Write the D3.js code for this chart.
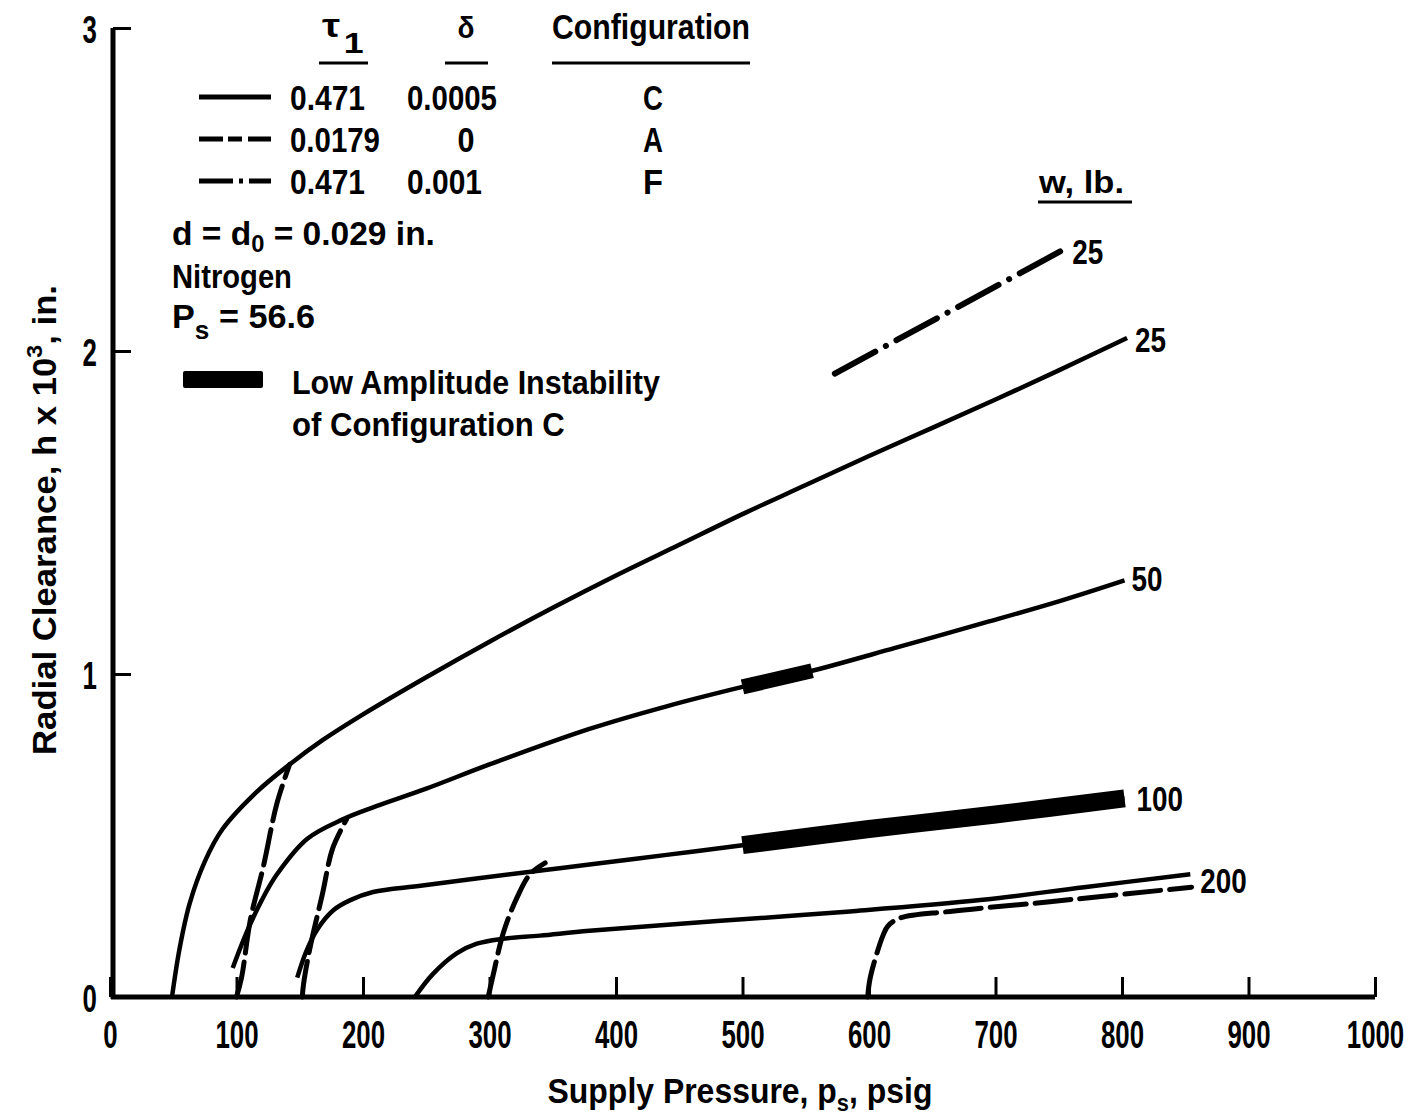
<!DOCTYPE html>
<html>
<head>
<meta charset="utf-8">
<script src="https://cdn.jsdelivr.net/npm/d3@7"></script>
<style>
  body { margin: 0; background: #fff; }
  svg text { font-family: "Liberation Sans", Arial, sans-serif; font-weight: bold; fill: #000; }
</style>
</head>
<body>
<svg width="1413" height="1118"></svg>
<script>
// supply pressure (psig) vs radial clearance (h x 10^3, in.)
const xTicks = [0, 100, 200, 300, 400, 500, 600, 700, 800, 900, 1000];
const yTicks = [0, 1, 2, 3];

// configuration C (solid), one per load w
const cW25 = [[49, 0], [55, 0.15], [63, 0.29], [75, 0.42], [89, 0.52], [116, 0.635], [142, 0.72],
              [168, 0.795], [200, 0.875], [250, 0.99], [300, 1.10], [350, 1.205], [400, 1.305],
              [450, 1.40], [500, 1.495], [550, 1.585], [600, 1.675], [650, 1.762], [700, 1.85],
              [750, 1.94], [804, 2.04]];
const cW50 = [[97, 0.09], [108, 0.20], [120, 0.30], [132, 0.38], [156, 0.49], [184, 0.55], [210, 0.59],
              [250, 0.645], [300, 0.72], [379, 0.83], [440, 0.90], [500, 0.96], [555, 1.01],
              [620, 1.08], [688, 1.155], [750, 1.225], [802, 1.29]];
const cW100 = [[148, 0.06], [155, 0.14], [164, 0.21], [177, 0.27], [190, 0.30], [208, 0.325],
               [247, 0.345], [326, 0.385], [379, 0.41], [440, 0.44], [500, 0.47], [600, 0.52],
               [700, 0.565], [802, 0.615]];
const cW200 = [[241, 0], [255, 0.07], [274, 0.135], [290, 0.165], [310, 0.18], [340, 0.19],
               [379, 0.205], [480, 0.235], [585, 0.265], [688, 0.30], [770, 0.34], [854, 0.38]];

// configuration A (dashed)
const aW25 = [[100, 0], [104, 0.06], [111, 0.24], [121, 0.40], [132, 0.60], [142, 0.72]];
const aW50 = [[152, 0], [153, 0.04], [158, 0.15], [168, 0.32], [176, 0.46], [187, 0.55]];
const aW100 = [[299, 0], [303, 0.07], [311, 0.20], [322, 0.31], [332, 0.38], [344, 0.415]];
const aW200 = [[599, 0], [601, 0.06], [611, 0.19], [615, 0.22], [625, 0.245], [664, 0.265],
               [743, 0.295], [855, 0.34]];

// configuration F (dash-dot)
const fW25 = [[573, 1.93], [752, 2.31]];

// low amplitude instability ranges of configuration C (psig)
const instab50 = [500, 555];
const instab100 = [500, 802];

const legendRows = [
  { tau: "0.471", delta: "0.0005", config: "C", style: "solid" },
  { tau: "0.0179", delta: "0", config: "A", style: "dash" },
  { tau: "0.471", delta: "0.001", config: "F", style: "dashdot" }
];

const curveLabels = [
  { text: "25", series: fW25, dx: 11, dy: 0 },
  { text: "25", series: cW25, dx: 8, dy: 1 },
  { text: "50", series: cW50, dx: 7, dy: -2 },
  { text: "100", series: cW100, dx: 12, dy: 0 },
  { text: "200", series: cW200, dx: 10, dy: 6 }
];

const svg = d3.select("svg");

const x = d3.scaleLinear().domain([0, 1000]).range([110, 1375]);
const y = d3.scaleLinear().domain([0, 3]).range([997, 28]);

const line = d3.line()
  .x(d => x(d[0]))
  .y(d => y(d[1]))
  .curve(d3.curveCatmullRom.alpha(0.5));

// the original lettering is a tall condensed face: squeeze text to a set width
function fit(t, px, py, width, rot) {
  const w = t.node().getComputedTextLength();
  t.attr("transform", `translate(${px},${py})${rot ? ` rotate(${rot})` : ""} scale(${width / w},1)`);
  return t;
}
function label(parent, size, anchor) {
  return parent.append("text").attr("font-size", size).attr("text-anchor", anchor || "start");
}

// axes
const xAxis = d3.axisBottom(x).tickValues(xTicks).tickSize(-20).tickFormat(d3.format("d")).tickPadding(0);
const gx = svg.append("g").attr("transform", `translate(0,${y(0)})`).call(xAxis);
gx.select(".domain").attr("stroke-width", 5).attr("d", `M${x(0) + 1},0H${x(1000)}`);
gx.selectAll(".tick line").attr("stroke-width", 3);
gx.selectAll(".tick text").attr("font-size", 38).attr("y", 0).attr("dy", 0)
  .attr("transform", "translate(0,51) scale(0.68,1)");

const yAxis = d3.axisLeft(y).tickValues(yTicks).tickSize(-18).tickFormat(d3.format("d")).tickPadding(0);
const gy = svg.append("g").attr("transform", `translate(${x(0) + 3},0)`).call(yAxis);
gy.select(".domain").attr("stroke-width", 5).attr("d", `M0,${y(0) + 2}V${y(3)}`);
gy.selectAll(".tick line").attr("stroke-width", 3);
gy.selectAll(".tick text").attr("font-size", 38).attr("x", 0).attr("dy", 0)
  .attr("transform", "translate(-16,14) scale(0.68,1)");

// axis titles
const xt = label(svg, 35, "middle");
xt.append("tspan").text("Supply Pressure,  p");
xt.append("tspan").attr("font-size", 24).attr("dy", 8).text("s");
xt.append("tspan").attr("dy", -8).text(",  psig");
fit(xt, 740, 1103, 385);

const yt = label(svg, 33, "middle");
yt.append("tspan").text("Radial Clearance,  h x 10");
yt.append("tspan").attr("font-size", 22).attr("dy", -14).text("3");
yt.append("tspan").attr("dy", 14).text(",  in.");
fit(yt, 56, 520, 470, -90);

// curves
const plot = svg.append("g").attr("fill", "none").attr("stroke", "#000");

[cW25, cW50, cW100, cW200].forEach(s => {
  plot.append("path").attr("d", line(s)).attr("stroke-width", 4.5);
});
[aW25, aW50, aW100, aW200].forEach(s => {
  plot.append("path").attr("d", line(s)).attr("stroke-width", 5)
    .attr("stroke-dasharray", "36,9").attr("stroke-linecap", "round");
});
plot.append("path").attr("d", line(fW25)).attr("stroke-width", 6)
  .attr("stroke-dasharray", "46,12,0.1,12").attr("stroke-linecap", "round");

// instability bands
function band(series, range) {
  return series.filter(d => d[0] >= range[0] && d[0] <= range[1]);
}
plot.append("path").attr("d", line(band(cW50, instab50))).attr("stroke-width", 15);
plot.append("path").attr("d", line(band(cW100, instab100))).attr("stroke-width", 18);

// curve end labels (w, lb.)
curveLabels.forEach(l => {
  const last = l.series[l.series.length - 1];
  const t = label(svg, 36).text(l.text);
  fit(t, x(last[0]) + l.dx, y(last[1]) + l.dy + 13, l.text.length * 15.5);
});

const wl = label(svg, 32).text("w,  lb.");
fit(wl, 1039, 193, 85);
svg.append("line").attr("x1", 1038).attr("x2", 1132).attr("y1", 202).attr("y2", 202)
  .attr("stroke", "#000").attr("stroke-width", 3);

// legend table
const leg = svg.append("g");
const t1 = label(leg, 34).attr("font-weight", "normal");
t1.append("tspan").text("τ");
t1.append("tspan").attr("dy", 16).attr("font-size", 30).attr("font-weight", "bold").attr("dx", 3).text("1");
fit(t1, 322, 37, 38);
fit(label(leg, 30, "middle").text("δ"), 466, 38, 17);
fit(label(leg, 35, "middle").text("Configuration"), 651, 39, 198);
[[319, 368], [445, 488], [552, 750]].forEach(u => {
  leg.append("line").attr("x1", u[0]).attr("x2", u[1]).attr("y1", 63).attr("y2", 63)
    .attr("stroke", "#000").attr("stroke-width", 3);
});

legendRows.forEach((r, i) => {
  const cy = 97 + i * 42;
  leg.append("line").attr("x1", 199).attr("x2", 271).attr("y1", cy).attr("y2", cy)
    .attr("stroke", "#000").attr("stroke-width", 5)
    .attr("stroke-dasharray", r.style === "dash" ? "24,5,14,6,40" : r.style === "dashdot" ? "34,6,4,6,40" : null);
  fit(label(leg, 35).text(r.tau), 290, cy + 13, r.tau.length * 15);
  if (r.delta === "0") fit(label(leg, 35, "middle").text(r.delta), 466, cy + 13, 17);
  else fit(label(leg, 35).text(r.delta), 407, cy + 13, r.delta.length * 15);
  fit(label(leg, 35, "middle").text(r.config), 653, cy + 13, 20);
});

// notes
const n1 = label(leg, 34);
n1.append("tspan").text("d = d");
n1.append("tspan").attr("dy", 7).attr("font-size", 24).text("0");
n1.append("tspan").attr("dy", -7).text(" = 0.029 in.");
fit(n1, 172, 245, 263);
fit(label(leg, 34).text("Nitrogen"), 172, 288, 120);
const n3 = label(leg, 34);
n3.append("tspan").text("P");
n3.append("tspan").attr("dy", 11).attr("font-size", 26).text("s");
n3.append("tspan").attr("dy", -11).text(" = 56.6");
fit(n3, 172, 328, 143);

leg.append("rect").attr("x", 183).attr("y", 371).attr("width", 80).attr("height", 17).attr("rx", 2).attr("fill", "#000");
fit(label(leg, 33).text("Low  Amplitude  Instability"), 292, 394, 368);
fit(label(leg, 33).text("of  Configuration  C"), 292, 436, 273);
</script>
</body>
</html>
